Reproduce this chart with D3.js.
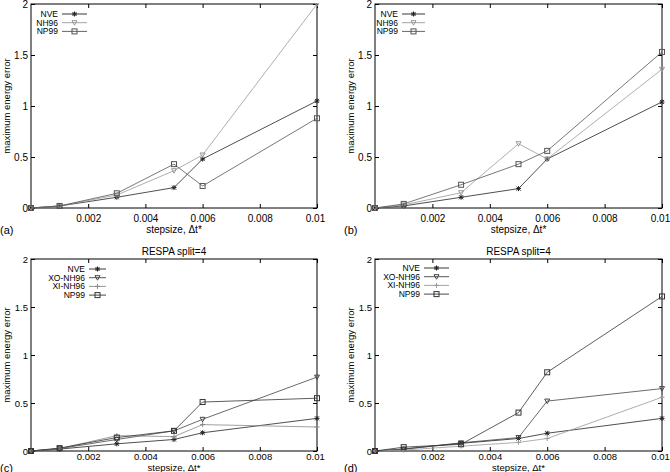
<!DOCTYPE html>
<html>
<head>
<meta charset="utf-8">
<script src="https://cdn.jsdelivr.net/npm/d3@7"></script>
<style>
  body { margin: 0; background: #fff; }
  svg text { font-family: "Liberation Sans", Arial, sans-serif; fill: #000; }
</style>
</head>
<body>
<svg id="chart" width="670" height="472"></svg>
<script>
// step sizes used in every run
var stepsizes = [0, 0.001, 0.003, 0.005, 0.006, 0.01];
var xTicks = [0.002, 0.004, 0.006, 0.008, 0.01];
var yTicks = [0, 0.5, 1, 1.5, 2];

// (a) plain thermostats
var a_NVE  = [0, 0.02, 0.105, 0.20, 0.48, 1.05];
var a_NH96 = [0, 0.02, 0.127, 0.366, 0.52, 2.0];
var a_NP99 = [0, 0.02, 0.144, 0.43, 0.216, 0.88];

// (b)
var b_NVE  = [0, 0.02, 0.105, 0.19, 0.48, 1.04];
var b_NH96 = [0, 0.03, 0.15, 0.63, 0.48, 1.36];
var b_NP99 = [0, 0.04, 0.228, 0.43, 0.56, 1.53];

// (c) RESPA split=4
var c_NVE    = [0, 0.02, 0.075, 0.12, 0.19, 0.34];
var c_XONH96 = [0, 0.025, 0.12, 0.21, 0.33, 0.77];
var c_XINH96 = [0, 0.025, 0.16, 0.15, 0.275, 0.25];
var c_NP99   = [0, 0.03, 0.14, 0.21, 0.51, 0.55];

// (d) RESPA split=4
var d_NVE    = [0, 0.02, 0.08, 0.13, 0.185, 0.34];
var d_XONH96 = [0, 0.02, 0.085, 0.14, 0.52, 0.65];
var d_XINH96 = [0, 0.01, 0.05, 0.09, 0.13, 0.56];
var d_NP99   = [0, 0.04, 0.07, 0.40, 0.82, 1.61];

var svg = d3.select("#chart");

var panels = [
  {tag: "(a)", x0: 31, x1: 317, y0: 4, y1: 208, pad: 7, lab: 25, fs: 10, title: null, legX: 58, legY: 14, legW: 25,
   series: [{name: "NVE", v: a_NVE, m: "star", c: "#222"},
            {name: "NH96", v: a_NH96, m: "tri", c: "#999"},
            {name: "NP99", v: a_NP99, m: "sq", c: "#555"}]},
  {tag: "(b)", x0: 375, x1: 662, y0: 4, y1: 208, pad: 7, lab: 25, fs: 10, title: null, legX: 398, legY: 14, legW: 23,
   series: [{name: "NVE", v: b_NVE, m: "star", c: "#222"},
            {name: "NH96", v: b_NH96, m: "tri", c: "#999"},
            {name: "NP99", v: b_NP99, m: "sq", c: "#555"}]},
  {tag: "(c)", x0: 31, x1: 317, y0: 259, y1: 451, pad: 2, lab: 19.5, fs: 9.5, title: "RESPA split=4", legX: 85, legY: 269, legW: 17,
   series: [{name: "NVE", v: c_NVE, m: "star", c: "#222"},
            {name: "XO-NH96", v: c_XONH96, m: "tri", c: "#444"},
            {name: "XI-NH96", v: c_XINH96, m: "plus", c: "#888"},
            {name: "NP99", v: c_NP99, m: "sq", c: "#333"}]},
  {tag: "(d)", x0: 375, x1: 662, y0: 259, y1: 451, pad: 2, lab: 19.5, fs: 9.5, title: "RESPA split=4", legX: 420, legY: 268, legW: 25,
   series: [{name: "NVE", v: d_NVE, m: "star", c: "#222"},
            {name: "XO-NH96", v: d_XONH96, m: "tri", c: "#444"},
            {name: "XI-NH96", v: d_XINH96, m: "plus", c: "#999"},
            {name: "NP99", v: d_NP99, m: "sq", c: "#333"}]}
];

function marker(g, type, cx, cy, col) {
  var s = 2.5;
  if (type == "star") {
    g.append("path").attr("d",
      "M" + (cx - s) + "," + cy + "H" + (cx + s) +
      "M" + cx + "," + (cy - s) + "V" + (cy + s) +
      "M" + (cx - s * 0.8) + "," + (cy - s * 0.8) + "L" + (cx + s * 0.8) + "," + (cy + s * 0.8) +
      "M" + (cx - s * 0.8) + "," + (cy + s * 0.8) + "L" + (cx + s * 0.8) + "," + (cy - s * 0.8))
      .attr("stroke", col).attr("fill", "none");
  } else if (type == "tri") {
    g.append("path").attr("d",
      "M" + (cx - s) + "," + (cy - s * 0.8) + "L" + (cx + s) + "," + (cy - s * 0.8) +
      "L" + cx + "," + (cy + s) + "Z")
      .attr("stroke", col).attr("fill", "none");
  } else if (type == "plus") {
    g.append("path").attr("d",
      "M" + (cx - s) + "," + cy + "H" + (cx + s) +
      "M" + cx + "," + (cy - s) + "V" + (cy + s))
      .attr("stroke", col).attr("fill", "none");
  } else {
    g.append("rect").attr("x", cx - s).attr("y", cy - s)
      .attr("width", 2 * s).attr("height", 2 * s)
      .attr("stroke", col).attr("fill", "none");
  }
}

panels.forEach(function(p) {
  var x = d3.scaleLinear().domain([0, 0.01]).range([p.x0, p.x1]);
  var y = d3.scaleLinear().domain([0, 2]).range([p.y1, p.y0]);
  var g = svg.append("g");
  var tl = 4;

  // inward ticks on all four sides, gnuplot style
  var axB = d3.axisBottom(x).tickValues(xTicks).tickSize(-tl).tickPadding(p.pad)
    .tickFormat(function(d){ return d3.format("")(+d.toFixed(3)); });
  var axT = d3.axisTop(x).tickValues(xTicks).tickSize(-tl).tickFormat("");
  var axL = d3.axisLeft(y).tickValues(yTicks).tickSize(-tl).tickFormat(d3.format(""));
  var axR = d3.axisRight(y).tickValues(yTicks).tickSize(-tl).tickFormat("");

  [[axB, "translate(0," + p.y1 + ")"], [axT, "translate(0," + p.y0 + ")"],
   [axL, "translate(" + p.x0 + ",0)"], [axR, "translate(" + p.x1 + ",0)"]].forEach(function(a) {
    var ag = g.append("g").attr("transform", a[1]).call(a[0]);
    ag.select(".domain").remove();
    ag.selectAll("line").attr("stroke", "#000");
    ag.selectAll("text").attr("font-size", p.fs).attr("font-family", "Liberation Sans, Arial, sans-serif");
  });
  g.selectAll("text").filter(function(){ return this.textContent == "0.01"; }).attr("dx", -2);

  g.append("rect").attr("x", p.x0).attr("y", p.y0)
    .attr("width", p.x1 - p.x0).attr("height", p.y1 - p.y0)
    .attr("fill", "none").attr("stroke", "#000").attr("stroke-width", 1);

  // series
  var clip = "clip" + p.tag.replace(/[()]/g, "");
  svg.append("clipPath").attr("id", clip).append("rect")
    .attr("x", p.x0 - 4).attr("y", p.y0 - 1).attr("width", p.x1 - p.x0 + 8).attr("height", p.y1 - p.y0 + 5);
  var sg = g.append("g").attr("clip-path", "url(#" + clip + ")");
  var line = d3.line().x(function(d, i){ return x(stepsizes[i]); }).y(function(d){ return y(d); });
  p.series.forEach(function(s) {
    sg.append("path").datum(s.v).attr("d", line)
      .attr("fill", "none").attr("stroke", s.c).attr("stroke-width", 0.8);
    s.v.forEach(function(v, i) { marker(sg, s.m, x(stepsizes[i]), y(v), s.c); });
  });

  // legend
  p.series.forEach(function(s, i) {
    var ly = p.legY + i * 8.7;
    g.append("text").attr("x", p.legX).attr("y", ly + 3).attr("text-anchor", "end")
      .attr("font-size", 8.5).text(s.name);
    g.append("line").attr("x1", p.legX + 4).attr("x2", p.legX + 4 + p.legW)
      .attr("y1", ly).attr("y2", ly).attr("stroke", s.c).attr("stroke-width", 0.9);
    marker(g, s.m, p.legX + 4 + p.legW / 2, ly, s.c);
  });

  // labels
  g.append("text").attr("x", (p.x0 + p.x1) / 2).attr("y", p.y1 + p.lab)
    .attr("text-anchor", "middle").attr("font-size", p.fs).text("stepsize, \u0394t*");
  g.append("text").attr("x", p.x0 - 31).attr("y", p.y1 + p.lab + 1).attr("font-size", 11).text(p.tag);
  g.append("text")
    .attr("transform", "translate(" + (p.x0 - 21) + "," + ((p.y0 + p.y1) / 2) + ") rotate(-90)")
    .attr("text-anchor", "middle").attr("font-size", 9.5).text("maximum energy error");
  if (p.title) {
    g.append("text").attr("x", (p.x0 + p.x1) / 2).attr("y", p.y0 - 4)
      .attr("text-anchor", "middle").attr("font-size", 10).text(p.title);
  }
});
</script>
</body>
</html>
